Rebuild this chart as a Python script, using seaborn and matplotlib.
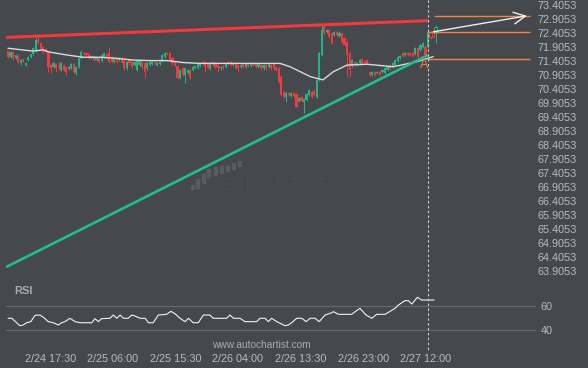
import numpy as np
import pandas as pd
import matplotlib
matplotlib.use("Agg")
import matplotlib.pyplot as plt
import matplotlib.transforms as mtransforms
from matplotlib.lines import Line2D
from matplotlib.patches import Rectangle
import seaborn as sns

# ---------------- data ----------------
opens = [71.76, 71.56, 71.72, 71.50, 71.60, 71.33, 71.46, 71.27, 71.44, 71.56,
         71.64, 71.77, 72.17, 72.04, 71.92, 71.83, 71.74, 71.26, 71.20, 71.29,
         71.24, 71.08, 71.26, 71.20, 71.12, 71.17, 71.29, 70.97, 71.20, 71.50,
         71.68, 71.68, 71.64, 71.50, 71.60, 71.44, 71.53, 71.40, 71.56, 71.64,
         71.68, 71.56, 71.38, 71.50, 71.44, 71.50, 71.44, 71.14, 71.44, 71.38,
         71.26, 71.08, 71.26, 71.38, 71.32, 71.14, 71.26, 71.30, 71.38, 71.26,
         71.30, 71.40, 71.56, 71.70, 71.68, 71.50, 71.38, 71.24, 70.79, 71.14,
         70.91, 70.97, 71.08, 71.08, 71.17, 71.17, 71.24, 71.38, 71.36, 71.29,
         71.14, 71.36, 71.32, 71.26, 71.14, 71.24, 71.20, 71.38, 71.36, 71.26,
         71.29, 71.26, 71.20, 71.29, 71.20, 71.29, 71.24, 71.32, 71.29, 71.20,
         71.26, 71.14, 71.26, 71.20, 71.26, 71.29, 71.20, 71.14, 70.85, 70.31,
         70.13, 70.27, 70.15, 70.27, 70.23, 69.99, 70.11, 69.95, 70.01, 70.19,
         70.31, 70.34, 70.13, 70.73, 71.62, 72.63, 72.45, 72.51, 72.39, 72.33,
         72.45, 72.30, 72.39, 72.22, 72.10, 71.68, 71.22, 71.38, 71.26, 71.32,
         71.46, 71.41, 71.44, 71.02, 70.91, 71.02, 70.97, 71.02, 71.00, 70.97,
         71.08, 71.26, 71.20, 71.26, 71.40, 71.51, 71.68, 71.62, 71.70, 71.70,
         71.70, 71.66, 71.86, 71.80, 71.92, 71.92, 71.92, 72.45, 72.49, 72.39]
highs = [71.80, 71.78, 71.76, 71.66, 71.64, 71.47, 71.49, 71.37, 71.58, 71.67,
         71.89, 72.23, 72.26, 72.07, 71.95, 71.86, 71.78, 71.30, 71.37, 71.33,
         71.38, 71.37, 71.30, 71.24, 71.24, 71.33, 71.33, 71.24, 71.53, 71.80,
         71.72, 71.71, 71.68, 71.63, 71.63, 71.54, 71.56, 71.65, 71.72, 71.68,
         71.92, 71.60, 71.54, 71.54, 71.54, 71.54, 71.48, 71.40, 71.48, 71.42,
         71.42, 71.48, 71.45, 71.42, 71.36, 71.36, 71.40, 71.42, 71.42, 71.36,
         71.42, 71.66, 71.74, 71.74, 71.72, 71.54, 71.42, 71.28, 71.12, 71.18,
         71.18, 71.12, 71.12, 71.24, 71.28, 71.33, 71.36, 71.42, 71.40, 71.33,
         71.36, 71.40, 71.36, 71.30, 71.24, 71.28, 71.33, 71.42, 71.40, 71.36,
         71.33, 71.30, 71.30, 71.33, 71.33, 71.33, 71.33, 71.36, 71.33, 71.33,
         71.30, 71.30, 71.30, 71.33, 71.30, 71.32, 71.24, 71.18, 70.89, 70.35,
         70.31, 70.31, 70.31, 70.31, 70.27, 70.12, 70.15, 70.08, 70.27, 70.41,
         70.35, 70.38, 70.77, 71.72, 72.69, 72.69, 72.56, 72.55, 72.43, 72.49,
         72.49, 72.46, 72.43, 72.26, 72.14, 71.72, 71.48, 71.42, 71.38, 71.48,
         71.50, 71.45, 71.48, 71.06, 71.06, 71.06, 71.06, 71.06, 71.12, 71.18,
         71.24, 71.30, 71.38, 71.48, 71.59, 71.62, 71.72, 71.74, 71.74, 71.74,
         71.74, 71.90, 71.90, 72.02, 72.08, 71.96, 72.49, 72.49, 72.52, 72.69]
lows = [71.50, 71.52, 71.45, 71.46, 71.32, 71.26, 71.36, 71.23, 71.40, 71.53,
        71.62, 71.74, 72.00, 71.80, 71.70, 71.70, 71.01, 70.97, 71.15, 71.02,
        71.08, 71.04, 71.04, 70.91, 71.08, 71.13, 70.98, 70.91, 71.17, 71.47,
        71.61, 71.58, 71.46, 71.46, 71.40, 71.41, 71.32, 71.38, 71.53, 71.46,
        71.34, 71.34, 71.34, 71.34, 71.41, 71.34, 71.10, 71.10, 71.28, 71.16,
        71.22, 71.04, 71.22, 71.16, 70.80, 71.10, 71.22, 71.26, 71.28, 71.22,
        71.26, 71.37, 71.53, 71.62, 71.40, 71.28, 71.22, 70.75, 70.75, 70.87,
        70.61, 70.94, 70.77, 71.04, 71.13, 71.13, 71.20, 71.25, 71.02, 71.13,
        71.10, 71.22, 71.16, 71.02, 71.10, 71.13, 71.16, 71.25, 71.22, 71.22,
        71.13, 71.02, 71.16, 71.16, 71.16, 71.20, 71.20, 71.22, 71.16, 71.16,
        71.10, 71.10, 71.10, 71.16, 71.10, 71.08, 71.04, 70.63, 70.15, 70.09,
        69.95, 70.15, 70.11, 70.11, 69.75, 69.95, 69.95, 69.54, 69.97, 70.15,
        70.09, 70.15, 70.09, 70.69, 71.58, 72.35, 72.41, 72.23, 72.00, 72.30,
        72.30, 72.27, 72.06, 71.94, 70.85, 70.85, 71.18, 71.22, 71.22, 71.28,
        71.28, 71.30, 71.30, 70.87, 70.87, 70.87, 70.93, 70.87, 70.96, 70.93,
        71.04, 71.07, 71.16, 71.22, 71.36, 71.47, 71.54, 71.58, 71.58, 71.58,
        71.54, 71.62, 71.52, 71.76, 71.88, 71.58, 71.88, 72.20, 72.23, 72.06]
closes = [71.55, 71.74, 71.50, 71.62, 71.36, 71.44, 71.40, 71.33, 71.55, 71.64,
          71.86, 72.16, 72.04, 71.84, 71.74, 71.74, 71.20, 71.14, 71.33, 71.14,
          71.20, 71.33, 71.08, 71.02, 71.20, 71.29, 71.02, 71.20, 71.50, 71.74,
          71.65, 71.62, 71.50, 71.59, 71.44, 71.50, 71.38, 71.62, 71.68, 71.50,
          71.38, 71.38, 71.50, 71.38, 71.50, 71.38, 71.14, 71.36, 71.32, 71.20,
          71.38, 71.44, 71.41, 71.20, 71.02, 71.32, 71.36, 71.38, 71.32, 71.32,
          71.38, 71.62, 71.68, 71.65, 71.44, 71.32, 71.26, 70.79, 71.08, 70.91,
          71.14, 71.08, 70.81, 71.20, 71.24, 71.29, 71.32, 71.29, 71.20, 71.17,
          71.32, 71.26, 71.20, 71.14, 71.20, 71.17, 71.29, 71.29, 71.26, 71.32,
          71.17, 71.14, 71.26, 71.20, 71.29, 71.24, 71.29, 71.26, 71.20, 71.29,
          71.14, 71.26, 71.14, 71.29, 71.14, 71.17, 71.08, 70.67, 70.19, 70.13,
          70.27, 70.19, 70.27, 70.15, 69.77, 70.08, 69.99, 70.04, 70.23, 70.37,
          70.13, 70.19, 70.73, 71.68, 72.51, 72.39, 72.52, 72.27, 72.04, 72.45,
          72.33, 72.42, 72.10, 71.98, 71.62, 71.08, 71.44, 71.26, 71.34, 71.44,
          71.32, 71.34, 71.34, 70.91, 71.02, 70.91, 71.02, 70.91, 71.08, 71.14,
          71.20, 71.11, 71.34, 71.44, 71.55, 71.58, 71.58, 71.70, 71.62, 71.62,
          71.58, 71.86, 71.56, 71.98, 72.04, 71.62, 72.45, 72.27, 72.27, 72.63]
n_solid = 167          # candles up to the breakout bar; later bars are hollow

ma_idx = [0, 9.9, 13.8, 16.6, 23.3, 29.6, 36.4, 43.1, 49.4, 56.1, 62.8, 69.2,
          75.9, 88.9, 107.5, 111.5, 119.4, 124.5, 128.5, 134.0, 141.9, 152.2,
          161.7, 168.0]
ma_val = [71.86, 71.76, 71.80, 71.72, 71.62, 71.54, 71.54, 71.50, 71.44, 71.42,
          71.42, 71.35, 71.32, 71.32, 71.32, 71.20, 70.85, 70.73, 71.02, 71.26,
          71.29, 71.20, 71.38, 71.56]

rsi_idx = [0, 1.5, 3.4, 4.7, 6.0, 7.4, 9.0, 10.7, 12.6, 14.0, 15.9, 17.9, 19.9,
           21.2, 22.5, 24.5, 26.5, 28.5, 33.1, 34.4, 35.7, 37.0, 40.3, 41.6,
           43.0, 44.3, 45.6, 47.5, 48.9, 50.2, 52.2, 54.2, 55.5, 57.4, 59.4,
           62.7, 64.4, 66.0, 68.0, 70.0, 71.3, 73.2, 75.2, 77.2, 79.8, 81.1,
           86.4, 87.7, 89.1, 91.7, 93.7, 98.3, 99.6, 101.6, 102.9, 104.2, 106.2,
           109.5, 110.8, 112.1, 114.1, 116.1, 117.8, 119.4, 121.3, 123.0, 125.3,
           127.3, 128.6, 130.6, 135.8, 137.2, 139.1, 141.5, 143.8, 145.7, 149.0,
           151.0, 153.0, 154.3, 156.9, 158.2, 159.6, 161.8, 163.5, 168.4]
rsi_val = [50.1, 50.1, 46.4, 43.9, 44.5, 46.4, 47.3, 52.6, 52.8, 50.9, 47.3,
           46.4, 44.5, 46.4, 47.3, 50.1, 47.3, 46.4, 46.4, 49.8, 47.3, 49.8,
           50.1, 52.8, 50.1, 52.8, 50.1, 50.1, 52.8, 52.0, 50.1, 50.1, 46.4,
           46.4, 52.8, 53.4, 55.9, 53.9, 50.1, 47.3, 50.1, 46.4, 46.4, 52.8,
           52.8, 50.1, 50.1, 52.8, 50.1, 50.1, 47.3, 47.3, 50.1, 50.1, 47.3,
           50.1, 47.3, 43.9, 44.5, 46.4, 50.1, 50.1, 47.3, 50.1, 50.1, 47.3,
           52.8, 54.2, 55.6, 53.4, 53.4, 55.6, 58.4, 52.8, 50.1, 53.4, 53.4,
           55.9, 58.4, 61.2, 64.8, 64.8, 62.0, 67.6, 65.3, 65.3]

resist_idx = [-0.4, 165.6]
resist_val = [72.25, 72.845]
support_idx = [-0.4, 165.6]
support_val = [64.06, 71.60]
breakout_idx = 166
level_vals = [72.43, 71.466]
target_val = 73.013
arrow_from = (168.2, 72.45)
arrow_to = (205.1, 73.02)

price_ticks = [63.9053, 64.4053, 64.9053, 65.4053, 65.9053, 66.4053, 66.9053,
               67.4053, 67.9053, 68.4053, 68.9053, 69.4053, 69.9053, 70.4053,
               70.9053, 71.4053, 71.9053, 72.4053, 72.9053, 73.4053]
date_pos = [17.0, 41.5, 66.4, 90.9, 115.8, 140.7, 165.2]
date_labels = ["2/24 17:30", "2/25 06:00", "2/25 15:30", "2/26 04:00",
               "2/26 13:30", "2/26 23:00", "2/27 12:00"]
logo_bars = [(192, 185, 189), (197, 179, 188), (203, 174, 183), (209, 169, 177),
             (215, 167, 175), (221, 166, 173), (227, 166, 171), (233, 163, 169),
             (239, 161, 166)]

# ---------------- style ----------------
BG = "#45484d"
GREEN = "#1fb584"
RED = "#f03a3d"
TXT = "#b9bdc1"
WM = "#585c61"
sns.set_theme(style="dark", rc={"axes.facecolor": BG, "figure.facecolor": BG,
                                "savefig.facecolor": BG})
plt.rcParams["font.family"] = ["Liberation Sans", "DejaVu Sans"]

W, H = 588, 368
fig = plt.figure(figsize=(W / 100, H / 100), dpi=100)
ax = fig.add_axes([6 / W, 90 / H, 525 / W, 278 / H])
axr = fig.add_axes([6 / W, 28 / H, 525 / W, 57 / H], sharex=ax)
for a in (ax, axr):
    a.set_facecolor(BG)
    for s in a.spines.values():
        s.set_visible(False)
    a.grid(False)

XL = (-0.79, 206.7)
ax.set_xlim(*XL)
ax.set_ylim(63.655, 73.584)

# ---------------- watermark (inside the main axes, below the marks) ----------------
ax.text(222 / W, 1 - 184 / H, "autochartist", fontsize=16.5, color=WM,
        family=["Lato", "DejaVu Sans"], fontweight="light", ha="left", va="center",
        transform=fig.transFigure, zorder=1)
for (xc, yt, yb) in logo_bars:
    ax.add_patch(Rectangle(((xc - 1.5) / W, 1 - yb / H), 3 / W, (yb - yt) / H,
                           transform=fig.transFigure, color=WM, zorder=1))

# ---------------- candles ----------------
df = pd.DataFrame({"i": np.arange(len(closes)), "o": opens, "h": highs,
                   "l": lows, "c": closes})
df["up"] = df["c"] >= df["o"]
df["col"] = np.where(df["up"], GREEN, RED)
df["bot"] = df[["o", "c"]].min(axis=1)
df["hgt"] = (df["c"] - df["o"]).abs().clip(lower=0.02)
solid = df[df["i"] < n_solid]
hollow = df[df["i"] >= n_solid]

ax.vlines(df["i"], df["l"], df["h"], colors=df["col"], lw=0.75, zorder=3)
ax.bar(solid["i"], solid["hgt"], bottom=solid["bot"], width=0.85,
       color=solid["col"], linewidth=0, zorder=4)
ax.bar(hollow["i"], hollow["hgt"], bottom=hollow["bot"], width=0.9,
       facecolor=BG, edgecolor=hollow["col"], linewidth=0.7, zorder=4)

# ---------------- lines ----------------
sns.lineplot(x=ma_idx, y=ma_val, ax=ax, color="#dadada", lw=1.0,
             estimator=None, sort=False, zorder=5)
sns.lineplot(x=resist_idx, y=resist_val, ax=ax, color=RED, lw=2.2,
             estimator=None, sort=False, zorder=6)
sns.lineplot(x=support_idx, y=support_val, ax=ax, color="#20bf8b", lw=1.9,
             estimator=None, sort=False, zorder=6)

ORANGE = "#ee8440"
ax.hlines(level_vals, breakout_idx, XL[1] - 0.4, colors=ORANGE, lw=1.0, zorder=6)
ax.hlines([target_val], arrow_from[0], XL[1] - 0.4, colors=ORANGE, lw=1.0, zorder=6)
ax.annotate("", xy=arrow_to, xytext=arrow_from,
            arrowprops=dict(arrowstyle="->,head_length=0.7,head_width=0.35",
                            color="#eeeeee", lw=1.0, shrinkA=0, shrinkB=0),
            zorder=7, annotation_clip=False)
ax.text(164.4, 71.25, "A", color=ORANGE, fontsize=9, ha="center", va="center",
        zorder=7)

# breakout dashed line spanning both panels
trans = mtransforms.blended_transform_factory(ax.transData, fig.transFigure)
fig.add_artist(Line2D([breakout_idx, breakout_idx], [1.0, 18 / H], transform=trans,
                      color="#cfcfcf", lw=0.8, ls=(0, (2.2, 2.2)), zorder=8))

# main axis ticks
ax.yaxis.tick_right()
ax.set_yticks(price_ticks)
ax.set_yticklabels([f"{v:.4f}" for v in price_ticks])
ax.tick_params(axis="y", length=0, pad=5, labelsize=7.8, colors=TXT,
               labelcolor=TXT)
ax.tick_params(axis="x", length=0, labelbottom=False)
ax.set_xlabel("")
ax.set_ylabel("")

# ---------------- RSI panel ----------------
axr.set_ylim(32.0, 79.5)
for gv in (40, 60):
    axr.axhline(gv, color="#63676c", lw=0.9, zorder=1, clip_on=False,
                xmax=1.008)
sns.lineplot(x=rsi_idx, y=rsi_val, ax=axr, color="#f2f2f2", lw=0.8,
             estimator=None, sort=False, zorder=3)
axr.yaxis.tick_right()
axr.set_yticks([40, 60])
axr.set_yticklabels(["40", "60"])
axr.tick_params(axis="y", length=0, pad=7, labelsize=7.8, labelcolor=TXT)
axr.set_xticks(date_pos)
axr.set_xticklabels(date_labels)
axr.tick_params(axis="x", length=0, pad=10, labelsize=7.8, labelcolor=TXT)
axr.set_xlabel("")
axr.set_ylabel("")
axr.set_xlim(*XL)

fig.text(14.5 / W, 1 - 291 / H, "RSI", fontsize=8, fontweight="bold",
         color="#a8acb0", ha="left", va="center")
fig.text(261 / W, 1 - 345 / H, "www.autochartist.com", fontsize=7.3,
         color="#a9adb1", ha="center", va="center")

fig.savefig("out.png", dpi=100, facecolor=BG)
